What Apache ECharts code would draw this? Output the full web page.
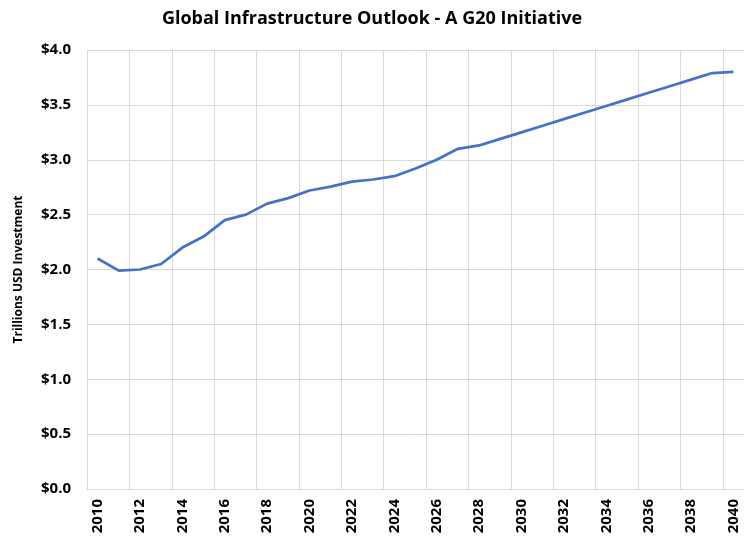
<!DOCTYPE html>
<html>
<head>
<meta charset="utf-8">
<script src="https://cdn.jsdelivr.net/npm/echarts@6/dist/echarts.min.js"></script>
<style>html,body{margin:0;padding:0;background:#fff}#c{width:744px;height:537px}</style>
</head>
<body>
<div id="c"></div>
<script>
const titleText = 'Global Infrastructure Outlook - A G20 Initiative';
const yAxisName = 'Trillions USD Investment';
const years = ['2010','2011','2012','2013','2014','2015','2016','2017','2018','2019','2020',
  '2021','2022','2023','2024','2025','2026','2027','2028','2029','2030',
  '2031','2032','2033','2034','2035','2036','2037','2038','2039','2040'];
const investment = [2.10,1.99,2.00,2.05,2.20,2.30,2.45,2.50,2.60,2.65,2.72,
  2.755,2.80,2.82,2.85,2.92,3.00,3.10,3.13,3.19,3.25,
  3.31,3.37,3.43,3.49,3.55,3.61,3.67,3.73,3.79,3.80];
const yTicks = {min:0, max:4, step:0.5};

const FONT = '"Open Sans", "Liberation Sans", sans-serif';
const chart = echarts.init(document.getElementById('c'), null, {renderer:'canvas'});
chart.setOption({
  backgroundColor:'#ffffff',
  animation:false,
  title:{text:titleText, left:'center', top:5,
    textStyle:{fontFamily:FONT, fontWeight:'bold', fontSize:18, color:'#000'}},
  grid:{left:87, right:0, top:50, bottom:48, containLabel:false},
  xAxis:{type:'category', data:years, boundaryGap:true,
    axisLine:{show:true, lineStyle:{color:'#d9d9d9', width:1}},
    axisTick:{show:false},
    axisLabel:{interval:1, rotate:90, margin:10, color:'#000', fontFamily:FONT, fontWeight:'bold', fontSize:15},
    splitLine:{show:true, interval:1, lineStyle:{color:'#d9d9d9', width:1}}},
  yAxis:{type:'value', min:yTicks.min, max:yTicks.max, interval:yTicks.step,
    name:yAxisName, nameLocation:'middle', nameGap:62, nameRotate:90,
    nameTextStyle:{fontFamily:FONT, fontWeight:'bold', fontSize:12, color:'#000'},
    axisLine:{show:false}, axisTick:{show:false},
    axisLabel:{margin:16, color:'#000', fontFamily:FONT, fontWeight:'bold', fontSize:15,
      formatter:v=>'$'+v.toFixed(1)},
    splitLine:{show:true, lineStyle:{color:'#d9d9d9', width:1}}},
  series:[{type:'line', data:investment, symbol:'none', smooth:false,
    lineStyle:{color:'#4472C4', width:2.75}}]
});
</script>
</body>
</html>
